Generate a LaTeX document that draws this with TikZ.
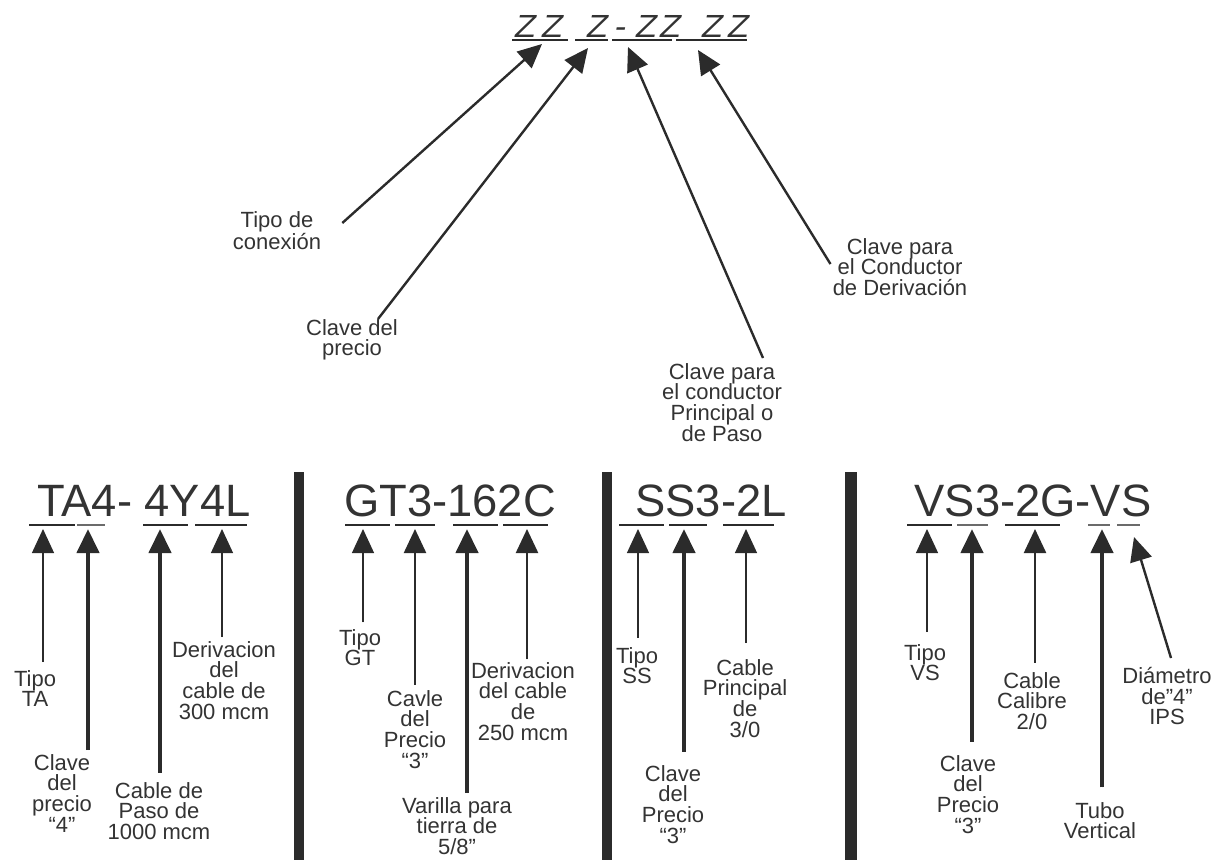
\documentclass[tikz,border=0pt]{standalone}
\usepackage{fontspec}
\setmainfont{Liberation Sans}
\newfontfamily\zfont[FakeSlant=0.2, FakeStretch=1.08]{Liberation Sans}
\usetikzlibrary{arrows.meta}
\definecolor{ink}{HTML}{2B2B2B}
\definecolor{txt}{HTML}{333333}
\tikzset{
	lbl/.style={font=\fontsize{16.5}{15.5}\selectfont, text=txt, align=center, inner sep=0pt, anchor=north},
	code/.style={font=\fontsize{34}{40}\selectfont, text=txt, inner sep=0pt, anchor=base},
	zz/.style={font=\zfont\fontsize{24}{28}\selectfont, text=txt, inner sep=0pt, anchor=base west},
	uline/.style={draw=ink, line width=1.5pt},
	ulinelt/.style={draw=ink!70, line width=0.8pt},
	tip/.style={-{Triangle[width=16.5pt,length=18pt]}, draw=ink, fill=ink},
	thinarr/.style={tip, line width=0.9pt},
	midarr/.style={tip, line width=1.8pt},
	thickarr/.style={tip, line width=3.2pt},
	bar/.style={fill=ink}
}
\begin{document}
\begin{tikzpicture}[x=0.75pt, y=-0.75pt]
	\useasboundingbox (0,0) rectangle (1223,860);
	% clave general
	\foreach \x/\n in {513/1, 540/2, 585/3, 634/4, 658/5, 700/6, 726/7}
		\node[zz] (z\n) at (\x,37) {Z};
	\node[zz] (zdash) at (613,37) {-};
	\draw[uline, line width=2pt] (512,40)--(568,40);
	\draw[uline, line width=2pt] (575,40)--(608,40);
	\draw[uline, line width=2pt] (612,40)--(672,40);
	\draw[uline, line width=2pt] (676,40)--(747,40);
	\coordinate (k1) at (542,44);
	\coordinate (k2) at (588,48);
	\coordinate (k3) at (628,47);
	\coordinate (k4) at (698,50);
	\node[lbl] (tcon) at (277,211) {Tipo de\\conexión};
	\node[lbl] (cdp) at (352,319) {Clave del\\precio};
	\node[lbl] (cpp) at (722,363) {Clave para\\el conductor\\Principal o\\de Paso};
	\node[lbl] (cder) at (900,238) {Clave para\\el Conductor\\de Derivación};
	\draw[midarr] ([shift={(21,12)}]tcon.north east)--(k1);
	\draw[midarr] ([shift={(26,0)}]cdp.north)--(k2);
	\draw[midarr] ([shift={(41,-5)}]cpp.north)--(k3);
	\draw[midarr] ([shift={(-2,-3)}]cder.west)--(k4);

	% separadores
	\fill[bar] (294,472) rectangle (304,860);
	\fill[bar] (602,472) rectangle (612,860);
	\fill[bar] (845,472) rectangle (857,860);

	% TA
	\node[code] (cta) at (144,516) {TA4- 4Y4L};
	\draw[uline] (29,525)--(75,525);
	\draw[ulinelt] (77,525)--(105,525);
	\draw[uline] (143,525)--(188,525);
	\draw[uline] (195,525)--(247,525);
	\coordinate (pa1) at (43,529);
	\coordinate (pa2) at (88,529);
	\coordinate (pa3) at (160,529);
	\coordinate (pa4) at (222,529);
	\node[lbl] (ta1) at (35,670) {Tipo\\TA};
	\node[lbl] (ta2) at (62,754) {Clave\\del\\precio\\“4”};
	\node[lbl] (ta3) at (159,782) {Cable de\\Paso de\\1000 mcm};
	\node[lbl] (ta4) at (224,641) {Derivacion\\del\\cable de\\300 mcm};
	\draw[thinarr, shorten <=6pt] (ta1.north -| pa1)--(pa1);
	\draw[thickarr, shorten <=3pt] (ta2.north -| pa2)--(pa2);
	\draw[thickarr, shorten <=7pt] (ta3.north -| pa3)--(pa3);
	\draw[thinarr, shorten <=3pt] (ta4.north -| pa4)--(pa4);

	% GT
	\node[code] (cgt) at (450,516) {GT3-162C};
	\draw[uline] (345,525)--(390,525);
	\draw[uline] (395,525)--(435,525);
	\draw[uline] (453,525)--(498,525);
	\draw[uline] (503,525)--(548,525);
	\coordinate (pg1) at (363,529);
	\coordinate (pg2) at (415,529);
	\coordinate (pg3) at (467,529);
	\coordinate (pg4) at (527,529);
	\node[lbl] (gt1) at (360,629) {Tipo\\GT};
	\node[lbl] (gt2) at (415,690) {Cavle\\del\\Precio\\“3”};
	\node[lbl] (gt3) at (457,797) {Varilla para\\tierra de\\5/8”};
	\node[lbl] (gt4) at (523,662) {Derivacion\\del cable\\de\\250 mcm};
	\draw[thinarr, shorten <=5pt] (gt1.north -| pg1)--(pg1);
	\draw[midarr, shorten <=4pt] (gt2.north -| pg2)--(pg2);
	\draw[thickarr, shorten <=3pt] (gt3.north -| pg3)--(pg3);
	\draw[midarr, shorten <=2pt] (gt4.north -| pg4)--(pg4);

	% SS
	\node[code] (css) at (711,516) {SS3-2L};
	\draw[uline] (619,525)--(664,525);
	\draw[uline] (669,525)--(707,525);
	\draw[uline] (723,525)--(774,525);
	\coordinate (ps1) at (638,529);
	\coordinate (ps2) at (684,529);
	\coordinate (ps3) at (746,529);
	\node[lbl] (ss1) at (637,647) {Tipo\\SS};
	\node[lbl] (ss2) at (673,765) {Clave\\del\\Precio\\“3”};
	\node[lbl] (ss3) at (745,659) {Cable\\Principal\\de\\3/0};
	\draw[thinarr, shorten <=7pt] (ss1.north -| ps1)--(ps1);
	\draw[thickarr, shorten <=10pt] (ss2.north -| ps2)--(ps2);
	\draw[thinarr, shorten <=12pt] (ss3.north -| ps3)--(ps3);

	% VS
	\node[code] (cvs) at (1033,516) {VS3-2G-VS};
	\draw[uline] (907,525)--(952,525);
	\draw[ulinelt] (957,525)--(988,525);
	\draw[uline] (1005,525)--(1060,525);
	\draw[ulinelt] (1088,525)--(1110,525);
	\draw[ulinelt] (1117,525)--(1140,525);
	\coordinate (pv1) at (927,529);
	\coordinate (pv2) at (972,529);
	\coordinate (pv3) at (1035,529);
	\coordinate (pv4) at (1102,529);
	\coordinate (pv5) at (1134,537);
	\node[lbl] (vs1) at (925,644) {Tipo\\VS};
	\node[lbl] (vs2) at (968,755) {Clave\\del\\Precio\\“3”};
	\node[lbl] (vs3) at (1032,672) {Cable\\Calibre\\2/0};
	\node[lbl] (vs4) at (1100,802) {Tubo\\Vertical};
	\node[lbl] (vs5) at (1167,667) {Diámetro\\de”4”\\IPS};
	\draw[thinarr, shorten <=9pt] (vs1.north -| pv1)--(pv1);
	\draw[thickarr, shorten <=10pt] (vs2.north -| pv2)--(pv2);
	\draw[midarr, shorten <=7pt] (vs3.north -| pv3)--(pv3);
	\draw[thickarr, shorten <=11pt] (vs4.north -| pv4)--(pv4);
	\draw[midarr] ([shift={(4,-9)}]vs5.north)--(pv5);
\end{tikzpicture}
\end{document}
